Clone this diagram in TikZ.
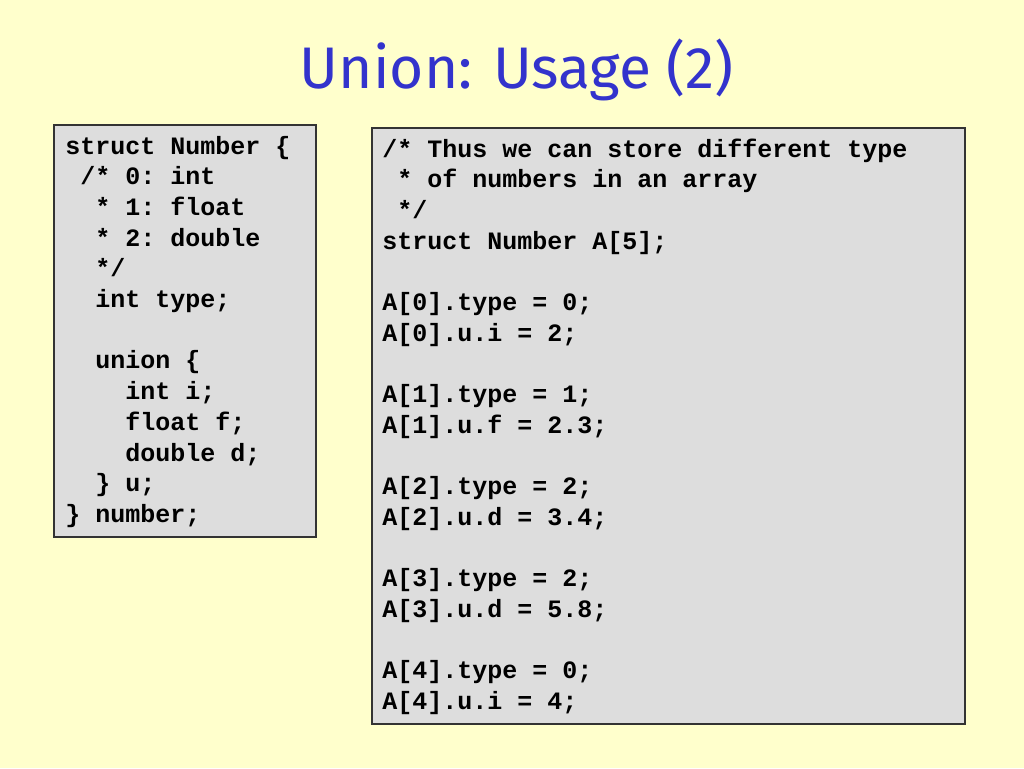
\documentclass[tikz,border=0pt]{standalone}
\usepackage{fontspec}
\setmonofont{Liberation Mono}
\newfontfamily\titlefont{Fira Sans}
\definecolor{slidebg}{HTML}{FFFFCC}
\definecolor{titleblue}{HTML}{3333CC}
\definecolor{codefill}{HTML}{DDDDDD}
\definecolor{codeline}{HTML}{333333}
\begin{document}
\begin{tikzpicture}[x=0.75pt,y=-0.75pt,
  codebox/.style={draw=codeline,fill=codefill,line width=0.9pt},
  codetext/.style={anchor=base west,inner sep=0pt,font=\ttfamily\bfseries\fontsize{18.75pt}{23pt}\selectfont},
  titletext/.style={anchor=base,inner sep=0pt,text=titleblue,font=\titlefont\fontsize{44pt}{50pt}\selectfont}]
\fill[slidebg] (0,0) rectangle (1024,768);
\useasboundingbox (0,0) rectangle (1024,768);
\node[titletext] (title) at (517,88) {Union: Usage (2)};
\draw[codebox] (54,125) rectangle (316,537);
\draw[codebox] (372,128) rectangle (965,724);
\foreach \i/\t in {0/{struct Number \{},1/{\ /* 0: int},2/{\ \ * 1: float},3/{\ \ * 2: double},4/{\ \ */},5/{\ \ int type;},7/{\ \ union \{},8/{\ \ \ \ int i;},9/{\ \ \ \ float f;},10/{\ \ \ \ double d;},11/{\ \ \} u;},12/{\} number;}}
  \node[codetext] (left\i) at (65,{154+30.7*\i}) {\t};
\foreach \i/\t in {0/{/* Thus we can store different type},1/{\ * of numbers in an array},2/{\ */},3/{struct Number A[5];},5/{A[0].type = 0;},6/{A[0].u.i = 2;},8/{A[1].type = 1;},9/{A[1].u.f = 2.3;},11/{A[2].type = 2;},12/{A[2].u.d = 3.4;},14/{A[3].type = 2;},15/{A[3].u.d = 5.8;},17/{A[4].type = 0;},18/{A[4].u.i = 4;}}
  \node[codetext] (right\i) at (382,{157+30.7*\i}) {\t};
\end{tikzpicture}
\end{document}
